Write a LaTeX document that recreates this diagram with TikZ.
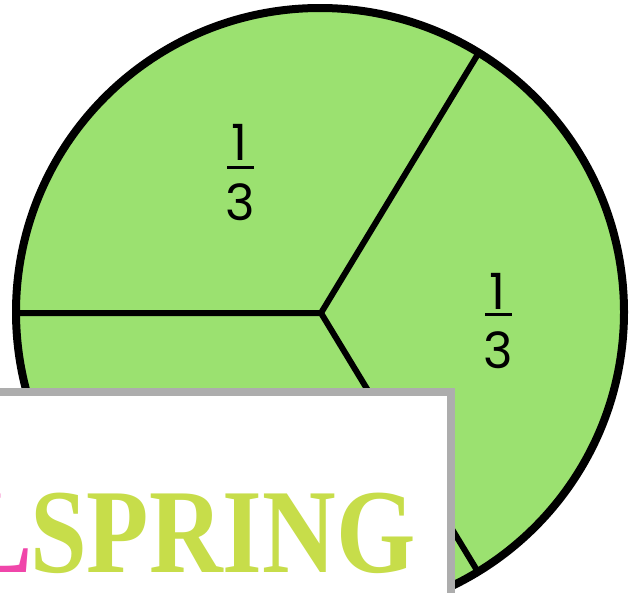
\documentclass[tikz,border=0pt]{standalone}
\usepackage{fontspec}
\newfontfamily\fracfont{Poppins}
\newfontfamily\signfont{Liberation Serif}
\definecolor{piegreen}{RGB}{155,225,112}
\definecolor{springgreen}{RGB}{199,221,74}
\definecolor{signpink}{RGB}{240,70,170}
\definecolor{signgray}{RGB}{173,173,173}

\begin{document}
\begin{tikzpicture}[x=1pt,y=-1pt,
  digit/.style={anchor=base,inner sep=0pt,font=\fracfont\fontsize{50}{50}\selectfont},
  fracbar/.style={line width=3pt},
  radius line/.style={line width=6pt,line join=miter},
  signword/.style={anchor=base,inner sep=0pt,font=\signfont\bfseries\fontsize{120}{120}\selectfont}]
\useasboundingbox (0,0) rectangle (639,592);
\clip (0,0) rectangle (639,592);
% the pie
\coordinate (c) at (321,313);
\coordinate (left end) at (16,313);
\coordinate (top end) at (478,54);
\coordinate (bottom end) at (478,572);
\fill[piegreen] (320,312) circle (304);
\draw[radius line] (left end) -- (c) -- (top end);
\draw[radius line] (c) -- (bottom end);
\draw[line width=8pt] (320,312) circle (304);
% thirds
\node[digit] (num a) at (239,160) {1};
\node[digit] (den a) at (240,220) {3};
\draw[fracbar] (227,167) -- (254,167);
\node[digit] (num b) at (497,309) {1};
\node[digit] (den b) at (498,368) {3};
\draw[fracbar] (485,314) -- (512,314);
% sign on top
\draw[signgray,line width=8pt,fill=white] (-10,392) rectangle (451,610);
\begin{scope}
\clip (0,396) rectangle (447,592);
\node[signword,anchor=base east,text=signpink] (tail) at (33,572) {\scalebox{0.85}[1]{L}};
\node[signword,anchor=base west,text=springgreen] (spring) at (30,572) {\scalebox{0.85}[1]{SPRING}};
\end{scope}
\end{tikzpicture}
\end{document}
